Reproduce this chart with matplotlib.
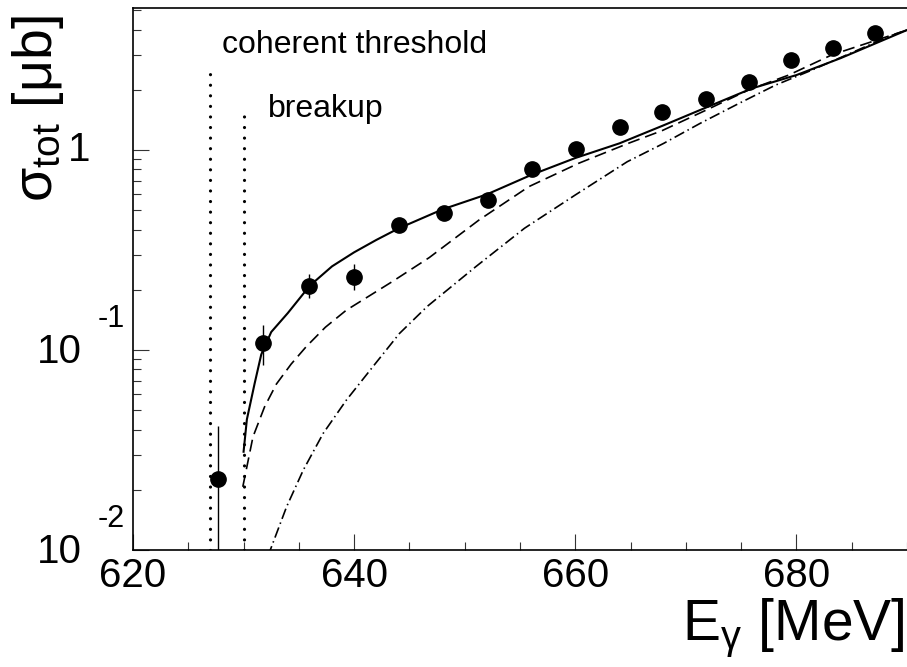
import numpy as np
import matplotlib
matplotlib.use("Agg")
import matplotlib.pyplot as plt
import matplotlib.transforms as mtransforms
from matplotlib.ticker import MultipleLocator, LogLocator, NullFormatter

# ----------------------
# Datos
# ----------------------
E_data = [627.65, 631.77, 635.9, 639.96, 644.06, 648.1, 652.1, 656.1,
          660.08, 664.0, 667.8, 671.8, 675.7, 679.5, 683.3, 687.1]
sig_data = [0.0226, 0.1088, 0.2097, 0.2325, 0.4217, 0.4858, 0.5623, 0.8008,
            1.0116, 1.296, 1.554, 1.799, 2.181, 2.818, 3.248, 3.832]
err_lo = [0.0176, 0.0248, 0.0277, 0.0325, 0.015, 0.016, 0.018, 0.025,
          0.03, 0.04, 0.045, 0.05, 0.06, 0.08, 0.09, 0.1]
err_hi = [0.0191, 0.0242, 0.0303, 0.0365, 0.015, 0.016, 0.018, 0.025,
          0.03, 0.04, 0.045, 0.05, 0.06, 0.08, 0.09, 0.1]

E_solid = [630.0, 630.3, 631.0, 631.6, 632.5, 634.0, 636.0, 638.0, 640.0,
           642.0, 644.0, 648.0, 652.0, 656.0, 660.0, 664.0, 668.0, 672.0,
           676.0, 680.0, 684.0, 690.0]
sig_solid = [0.031, 0.045, 0.068, 0.095, 0.123, 0.153, 0.21, 0.262, 0.308,
             0.355, 0.405, 0.505, 0.60, 0.75, 0.912, 1.08, 1.33, 1.646,
             2.035, 2.37, 2.88, 3.98]

E_dash = [629.93, 630.85, 631.9, 632.97, 634.3, 635.67, 637.4, 639.28,
          643.46, 646.8, 651.3, 655.8, 660.3, 664.8, 667.85, 671.8, 675.7,
          679.3, 683.2, 690.0]
sig_dash = [0.0207, 0.0368, 0.052, 0.0676, 0.085, 0.104, 0.13, 0.158,
            0.22, 0.29, 0.447, 0.656, 0.858, 1.08, 1.25, 1.58, 2.0,
            2.37, 2.99, 3.98]

E_dd = [632.2, 633.9, 635.4, 637.2, 639.3, 641.7, 644.1, 646.6, 651.0,
        655.4, 660.0, 664.7, 668.0, 671.3, 674.8, 678.1, 681.4, 684.85,
        688.3, 690.0]
sig_dd = [0.0093, 0.0165, 0.0251, 0.0383, 0.0562, 0.0826, 0.121, 0.165,
          0.261, 0.406, 0.596, 0.874, 1.08, 1.36, 1.71, 2.11, 2.51, 3.04,
          3.69, 3.98]

thr_E = [627.0, 630.0]
thr_top = [2.5, 1.58]
thr_text = ["coherent threshold", "breakup"]
thr_text_pos = [(628.03, 3.05), (632.18, 1.468)]

ytick_vals = [0.01, 0.1, 1.0]

# ----------------------
# Figura
# ----------------------
plt.rcParams["font.family"] = ["Liberation Sans", "DejaVu Sans"]
plt.rcParams["mathtext.fontset"] = "custom"
plt.rcParams["mathtext.rm"] = "Liberation Sans"
plt.rcParams["mathtext.it"] = "Liberation Sans"

fig = plt.figure(figsize=(9.07, 6.67), dpi=100)
ax = fig.add_axes([133 / 907, 117 / 667, 774 / 907, 542 / 667])

for x0, top in zip(thr_E, thr_top):
    ax.plot([x0, x0], [0.01, top], color="black", lw=2.3,
            ls=(0, (0.01, 3.3)), dash_capstyle="round", zorder=2)

ax.plot(E_solid, sig_solid, color="black", lw=1.5, zorder=3)
ax.plot(E_dash, sig_dash, color="black", lw=1.2, ls=(0, (7.2, 3.6)), zorder=3)
ax.plot(E_dd, sig_dd, color="black", lw=1.2,
        ls=(0, (6.5, 2.3, 0.9, 2.3)), zorder=3)

ax.errorbar(E_data, sig_data, yerr=[err_lo, err_hi], fmt="o", color="black",
            markersize=11, elinewidth=1.0, capsize=0, zorder=4)

for txt, (tx, ty) in zip(thr_text, thr_text_pos):
    ax.text(tx, ty, txt, fontsize=23, ha="left", va="baseline")

ax.set_yscale("log")
ax.set_xlim(620, 690)
ax.set_ylim(0.01, 5.13)

ax.xaxis.set_major_locator(MultipleLocator(20))
ax.xaxis.set_minor_locator(MultipleLocator(5))
ax.yaxis.set_major_locator(LogLocator(base=10))
ax.yaxis.set_minor_locator(LogLocator(base=10, subs=np.arange(2, 10)))
ax.yaxis.set_major_formatter(NullFormatter())
ax.yaxis.set_minor_formatter(NullFormatter())

ax.tick_params(axis="both", which="both", direction="in", width=0.8,
               color="#333333")
ax.tick_params(axis="both", which="major", length=11.5)
ax.tick_params(axis="both", which="minor", length=6)
ax.tick_params(axis="x", which="major", labelsize=29, pad=5)
ax.tick_params(top=False, right=False)

for s in ["left", "bottom", "top"]:
    ax.spines[s].set_linewidth(1.2)
ax.spines["right"].set_visible(False)

# etiquetas del eje y estilo ROOT
ytr = ax.get_yaxis_transform()
for v in ytick_vals:
    if v == 1.0:
        off = mtransforms.ScaledTranslation(-43 / 100, 0, fig.dpi_scale_trans)
        ax.text(0, v, "1", fontsize=29, ha="right", va="center",
                transform=ytr + off)
    else:
        off = mtransforms.ScaledTranslation(-51 / 100, -2 / 100, fig.dpi_scale_trans)
        ax.text(0, v, "10", fontsize=29, ha="right", va="center",
                transform=ytr + off)
        off2 = mtransforms.ScaledTranslation(-35 / 100, 31 / 100, fig.dpi_scale_trans)
        ax.text(0, v, "%d" % int(round(np.log10(v))), fontsize=22,
                ha="left", va="center", transform=ytr + off2)

fig.text(905 / 907, 27 / 667, r"E$_{\mathrm{γ}}$ [MeV]", fontsize=41,
         ha="right", va="baseline")
fig.text(38 / 907, 1 - 15 / 667, r"σ$_{\mathrm{tot}}$ [μb]", fontsize=40,
         rotation=90, ha="center", va="top")

fig.savefig("out.png", dpi=100)
